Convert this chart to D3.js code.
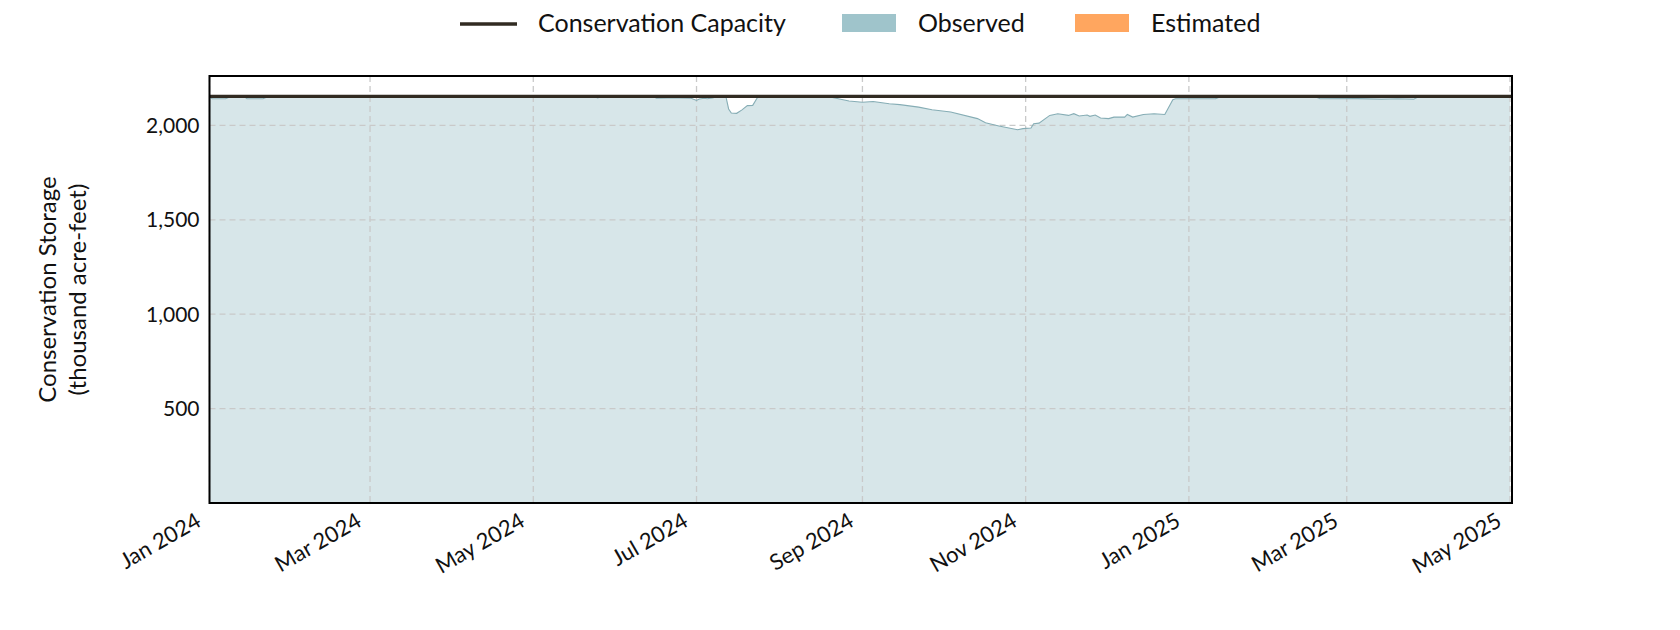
<!DOCTYPE html>
<html lang="en">
<head>
    <meta charset="UTF-8">
    <title>Conservation Storage</title>
    <script src="https://d3js.org/d3.v7.min.js"></script>
    <style>
        body {
            margin: 0;
            padding: 0;
            background-color: white;
            font-family: 'Lato', 'Open Sans', sans-serif;
        }
        .grid line {
            stroke: #c9c9c9;
            stroke-width: 1.3px;
            stroke-dasharray: 6,4;
        }
        .tick-label {
            font-size: 21px;
            fill: #111;
        }
    </style>
</head>
<body>
    <div id="chart"></div>

    <script>
        // Observed conservation storage (thousand acre-feet)
        const obsDates = [
            "2024-01-01", "2024-01-02", "2024-01-07", "2024-01-09", "2024-01-14", "2024-01-15",
            "2024-01-21", "2024-01-23", "2024-05-24", "2024-05-25", "2024-05-27", "2024-06-15",
            "2024-06-16", "2024-06-20", "2024-06-25", "2024-06-29", "2024-07-01", "2024-07-02",
            "2024-07-04", "2024-07-05", "2024-07-07", "2024-07-09", "2024-07-12", "2024-07-13",
            "2024-07-14", "2024-07-16", "2024-07-18", "2024-07-20", "2024-07-22", "2024-07-24",
            "2024-08-19", "2024-08-27", "2024-09-01", "2024-09-05", "2024-09-11", "2024-09-15",
            "2024-09-22", "2024-09-27", "2024-10-04", "2024-10-14", "2024-10-17", "2024-10-22",
            "2024-10-29", "2024-10-31", "2024-11-03", "2024-11-04", "2024-11-06", "2024-11-10",
            "2024-11-13", "2024-11-17", "2024-11-19", "2024-11-21", "2024-11-24", "2024-11-25",
            "2024-11-27", "2024-11-29", "2024-12-02", "2024-12-04", "2024-12-08", "2024-12-09",
            "2024-12-11", "2024-12-15", "2024-12-19", "2024-12-23", "2024-12-26", "2024-12-27",
            "2025-01-11", "2025-01-13", "2025-02-17", "2025-02-19", "2025-03-05", "2025-03-14",
            "2025-03-20", "2025-03-26", "2025-03-28", "2025-05-01"
        ];
        const obsValues = [
            2150, 2141, 2141, 2153, 2153, 2141,
            2141, 2153, 2153, 2146, 2153, 2153,
            2144, 2146, 2145, 2144, 2132, 2140,
            2144, 2141, 2146, 2153, 2152, 2087,
            2066, 2064, 2082, 2105, 2106, 2153,
            2153, 2129, 2123, 2127, 2115, 2110,
            2097, 2083, 2071, 2036, 2014, 1997,
            1977, 1983, 1986, 2009, 2012, 2053,
            2062, 2053, 2062, 2050, 2055, 2048,
            2055, 2039, 2036, 2044, 2044, 2058,
            2044, 2058, 2062, 2058, 2136, 2141,
            2142, 2153, 2153, 2141, 2142, 2139,
            2141, 2139, 2153, 2153
        ];
        const capacity = 2154;
        const yTicks = [500, 1000, 1500, 2000];
        const xTickDates = ["2024-01-01", "2024-03-01", "2024-05-01", "2024-07-01", "2024-09-01",
                            "2024-11-01", "2025-01-01", "2025-03-01", "2025-05-01"];
        const legendLabels = ["Conservation Capacity", "Observed", "Estimated"];

        const width = 1680, height = 630;
        const margin = {top: 76, right: 168, bottom: 127, left: 209.5};
        const parse = d3.timeParse("%Y-%m-%d");
        const data = obsDates.map((d, i) => ({date: parse(d), value: obsValues[i]}));

        const svg = d3.select("#chart")
            .append("svg")
            .attr("width", width)
            .attr("height", height);

        const x = d3.scaleTime()
            .domain([parse("2024-01-01"), new Date(2025, 4, 1, 18)])
            .range([margin.left, width - margin.right]);

        const y = d3.scaleLinear()
            .domain([0, capacity * 1.05])
            .range([height - margin.bottom, margin.top]);

        // Observed area
        svg.append("path")
            .datum(data)
            .attr("fill", "#9fc4cb")
            .attr("fill-opacity", 0.42)
            .attr("d", d3.area().x(d => x(d.date)).y0(y(0)).y1(d => y(d.value)));

        // Grid
        const grid = svg.append("g").attr("class", "grid");
        grid.selectAll(".gy")
            .data(yTicks)
            .enter().append("line")
            .attr("x1", margin.left).attr("x2", width - margin.right)
            .attr("y1", d => y(d)).attr("y2", d => y(d));
        grid.selectAll(".gx")
            .data(xTickDates.map(parse))
            .enter().append("line")
            .attr("x1", d => x(d)).attr("x2", d => x(d))
            .attr("y1", margin.top).attr("y2", height - margin.bottom);

        svg.append("path")
            .datum(data)
            .attr("fill", "none")
            .attr("stroke", "#86adb5")
            .attr("stroke-width", 1.1)
            .attr("d", d3.line().x(d => x(d.date)).y(d => y(d.value)));

        // Capacity line
        svg.append("line")
            .attr("x1", margin.left).attr("x2", width - margin.right)
            .attr("y1", y(capacity)).attr("y2", y(capacity))
            .attr("stroke", "#312b22")
            .attr("stroke-width", 3.3);

        // Frame
        svg.append("rect")
            .attr("x", margin.left).attr("y", margin.top)
            .attr("width", width - margin.right - margin.left)
            .attr("height", height - margin.bottom - margin.top)
            .attr("fill", "none")
            .attr("stroke", "black")
            .attr("stroke-width", 2);

        // Y tick labels
        svg.append("g").selectAll("text")
            .data(yTicks)
            .enter().append("text")
            .attr("class", "tick-label")
            .attr("x", margin.left - 10)
            .attr("y", d => y(d))
            .attr("dy", "0.35em")
            .attr("text-anchor", "end")
            .text(d3.format(","));

        // X tick labels
        const fmt = d3.timeFormat("%b %Y");
        svg.append("g").selectAll("text")
            .data(xTickDates.map(parse))
            .enter().append("text")
            .attr("class", "tick-label")
            .style("font-size", "22px")
            .attr("text-anchor", "end")
            .attr("transform", d => `translate(${x(d) - 7},${height - margin.bottom + 22}) rotate(-30)`)
            .text(fmt);

        // Y axis title
        const yt = svg.append("text")
            .attr("transform", `translate(56,${(margin.top + height - margin.bottom) / 2}) rotate(-90)`)
            .attr("text-anchor", "middle")
            .style("font-size", "24px")
            .attr("fill", "#111");
        yt.append("tspan").attr("x", 0).attr("dy", 0).text("Conservation Storage");
        yt.append("tspan").attr("x", 0).attr("dy", 30).text("(thousand acre-feet)");

        // Legend
        const legend = svg.append("g");
        legend.append("line")
            .attr("x1", 460).attr("x2", 517).attr("y1", 24).attr("y2", 24)
            .attr("stroke", "#312b22").attr("stroke-width", 3.3);
        legend.append("rect")
            .attr("x", 842).attr("y", 14).attr("width", 54).attr("height", 18)
            .attr("fill", "#9fc4cb");
        legend.append("rect")
            .attr("x", 1075).attr("y", 14).attr("width", 54).attr("height", 18)
            .attr("fill", "#ffa65f");
        legend.selectAll("text")
            .data(legendLabels)
            .enter().append("text")
            .attr("x", (d, i) => [538, 918, 1151][i])
            .attr("y", 32)
            .style("font-size", "25px")
            .attr("fill", "#111")
            .text(d => d);
    </script>
</body>
</html>
